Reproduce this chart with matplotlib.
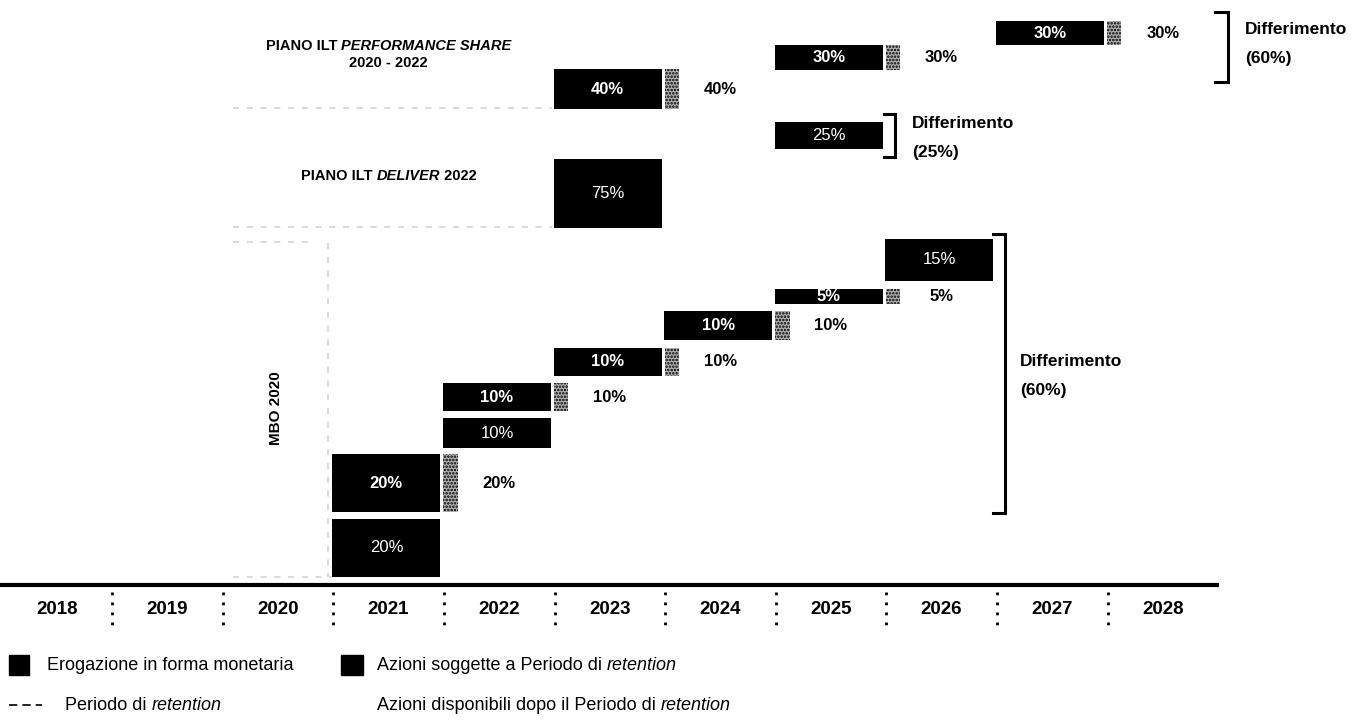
import numpy as np
import matplotlib
matplotlib.use('Agg')
import matplotlib.pyplot as plt
from matplotlib.patches import Rectangle

plt.rcParams['font.family'] = ['Liberation Sans', 'DejaVu Sans']
plt.rcParams['hatch.linewidth'] = 1.2

years = list(range(2018, 2029))

# MBO 2020
mbo_share_years = [2021, 2022, 2023, 2024, 2025]
mbo_share_pct = [20, 10, 10, 10, 5]
mbo_cash_years = [2021, 2022, 2026]
mbo_cash_pct = [20, 10, 15]

# Piano ILT Performance Share 2020 - 2022
perf_years = [2023, 2025, 2027]
perf_pct = [40, 30, 30]

# Piano ILT Deliver 2022
deliver_years = [2023, 2025]
deliver_pct = [75, 25]

# vertical layout of the rows (top edge, height), in pixels from the top
mbo_share_top = [454, 383, 348, 311, 289]
mbo_share_h = [58, 28, 28, 29, 15]
mbo_cash_top = [519, 418, 239]
mbo_cash_h = [58, 30, 42]
perf_top = [69, 45, 21]
perf_h = [40, 25, 24]
deliver_top = [159, 122]
deliver_h = [69, 27]

COL = 110.6  # pixels per year column
X0 = 2017.5 - 1.5 / COL
X1 = X0 + 1364 / COL

fig = plt.figure(figsize=(13.64, 7.22), dpi=100)
ax = fig.add_axes([0, 0, 1, 1])
ax.set_xlim(X0, X1)
ax.set_ylim(722, 0)
ax.axis('off')
renderer = fig.canvas.get_renderer()


def px(x):
    return X0 + x / COL


def draw_bars(yrs, pct, top, h, shares):
    yrs = np.array(yrs, dtype=float)
    top = np.array(top, dtype=float)
    h = np.array(h, dtype=float)
    ax.bar(yrs - 0.02, h, width=0.975, bottom=top, color='black', zorder=3)
    for y, p, t, hh in zip(yrs, pct, top, h):
        ax.text(y - 0.02, t + hh / 2, f'{p}%', color='white', ha='center', va='center',
                fontsize=12, fontweight='bold' if shares else 'normal', zorder=4)
    if shares:
        # shares available after the retention period
        ax.bar(yrs + 0.56, h, width=0.13, bottom=top, color='#b0b0b0', hatch='.....',
               edgecolor='black', linewidth=0, zorder=3)
        for y, p, t, hh in zip(yrs, pct, top, h):
            ax.text(y + 1, t + hh / 2, f'{p}%', color='black', ha='center', va='center',
                    fontsize=12, fontweight='bold')


# retention period lines (faint in the original)
ret = dict(color='#d0d0d0', lw=1.1, ls=(0, (4, 5)), zorder=1)
ax.hlines(108, px(233), px(552), **ret)
ax.hlines(227, px(233), px(552), **ret)
ax.hlines(242, px(233), px(312), **ret)
ax.hlines(577, px(233), px(332), **ret)
ax.vlines(px(328), 243, 577, **ret)

draw_bars(mbo_share_years, mbo_share_pct, mbo_share_top, mbo_share_h, True)
draw_bars(mbo_cash_years, mbo_cash_pct, mbo_cash_top, mbo_cash_h, False)
draw_bars(perf_years, perf_pct, perf_top, perf_h, True)
draw_bars(deliver_years, deliver_pct, deliver_top, deliver_h, False)

# timeline
ax.hlines(585, X0, px(1219), color='black', lw=3)
ax.vlines(np.array(years[:-1]) + 0.5, 592, 630, color='black', lw=2, ls=(0, (1, 2.6)))
for y in years:
    ax.text(y, 609, str(y), ha='center', va='center', fontsize=13.5, fontweight='bold')


# brackets
def bracket(x_tick, x_b, y1, y2, xt, yt, label):
    ax.plot([x_tick, x_b, x_b, x_tick], [y1, y1, y2, y2], color='black', lw=2.2,
            solid_joinstyle='miter')
    ax.text(xt, yt, 'Differimento', fontsize=12.5, fontweight='bold', va='center')
    ax.text(xt, yt + 28, label, fontsize=12.5, fontweight='bold', va='center')


bracket(px(1215), px(1228), 12, 82, px(1245), 30, '(60%)')
bracket(px(884), px(895), 114, 157, px(912), 124, '(25%)')
bracket(px(993), px(1005), 234, 513, px(1020), 362, '(60%)')


# text made of upright / italic pieces
def mixed_text(x, y, parts, center=False, **kw):
    items = [ax.text(0, y, s, style=st, ha='left', va='center', **kw) for s, st in parts]
    widths = [t.get_window_extent(renderer).width / COL for t in items]
    if center:
        x = x - sum(widths) / 2
    for t, w in zip(items, widths):
        t.set_x(x)
        x += w


tkw = dict(fontsize=10.5, fontweight='bold')
mixed_text(2021, 46, [('PIANO ILT ', 'normal'), ('PERFORMANCE SHARE', 'italic')], center=True, **tkw)
ax.text(2021, 63, '2020 - 2022', ha='center', va='center', **tkw)
mixed_text(2021, 176, [('PIANO ILT ', 'normal'), ('DELIVER', 'italic'), (' 2022', 'normal')],
           center=True, **tkw)
ax.text(px(276), 408, 'MBO 2020', rotation=90, ha='center', va='center', fontsize=11,
        fontweight='bold')

# legend
ax.add_patch(Rectangle((px(9), 655), 20 / COL, 20, color='black'))
ax.add_patch(Rectangle((px(341), 655), 22 / COL, 20, color='black'))
ax.plot([px(9), px(42)], [705, 705], color='black', lw=1.2, ls=(0, (5, 3)))

mixed_text(px(47), 665, [('Erogazione in forma monetaria', 'normal')], fontsize=13)
mixed_text(px(377), 665, [('Azioni soggette a Periodo di ', 'normal'), ('retention', 'italic')],
           fontsize=13)
mixed_text(px(65), 705, [('Periodo di ', 'normal'), ('retention', 'italic')], fontsize=13)
mixed_text(px(377), 705, [('Azioni disponibili dopo il Periodo di ', 'normal'),
                          ('retention', 'italic')], fontsize=13)

fig.savefig('out.png', dpi=100)
